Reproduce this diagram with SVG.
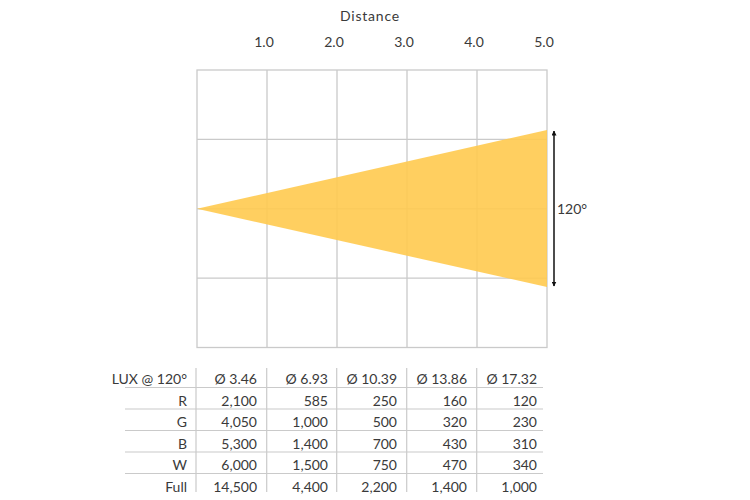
<svg xmlns="http://www.w3.org/2000/svg" width="750" height="500" viewBox="0 0 750 500">
<style>
text{font-family:Lato,"Noto Sans","Liberation Sans",sans-serif;font-size:14px;fill:#3a3a3a}
.grid line,.grid rect{stroke:#cacaca;stroke-width:1.3;fill:none}
.tl{stroke:#cacaca;stroke-width:1.2}
.r{text-anchor:end}
.m{text-anchor:middle}
</style>
<defs>
<marker id="ah" viewBox="0 0 10 10" refX="9" refY="5" markerWidth="5" markerHeight="5" orient="auto-start-reverse" markerUnits="userSpaceOnUse">
<path d="M0,0 L10,5 L0,10 Z" fill="#111"/>
</marker>
</defs>
<rect width="750" height="500" fill="#fff"/>
<g id="axis-labels">
<text class="m" x="370" y="21" style="letter-spacing:0.8px">Distance</text>
<text class="m" x="264" y="47">1.0</text>
<text class="m" x="334" y="47">2.0</text>
<text class="m" x="404" y="47">3.0</text>
<text class="m" x="474" y="47">4.0</text>
<text class="m" x="544" y="47">5.0</text>
</g>
<g id="grid" class="grid">
<rect x="197" y="70" width="350" height="277.5"/>
<line x1="267" y1="70" x2="267" y2="347.5"/>
<line x1="337" y1="70" x2="337" y2="347.5"/>
<line x1="407" y1="70" x2="407" y2="347.5"/>
<line x1="477" y1="70" x2="477" y2="347.5"/>
<line x1="197" y1="139.4" x2="547" y2="139.4"/>
<line x1="197" y1="208.8" x2="547" y2="208.8"/>
<line x1="197" y1="278.2" x2="547" y2="278.2"/>
</g>
<g id="beam">
<polygon points="197,208.8 547,130 547,287" fill="#ffca4f" fill-opacity="0.9"/>
</g>
<g id="angle">
<line x1="554" y1="131" x2="554" y2="286" stroke="#111" stroke-width="1.5" marker-start="url(#ah)" marker-end="url(#ah)"/>
<text x="557" y="214">120°</text>
</g>
<g id="table">
<g class="tl">
<line x1="125" y1="387.5" x2="543" y2="387.5"/>
<line x1="125" y1="409" x2="543" y2="409"/>
<line x1="125" y1="430.5" x2="543" y2="430.5"/>
<line x1="125" y1="452" x2="543" y2="452"/>
<line x1="125" y1="473.5" x2="543" y2="473.5"/>
<line x1="196" y1="368" x2="196" y2="492"/>
<line x1="266.7" y1="368" x2="266.7" y2="492"/>
<line x1="336.7" y1="368" x2="336.7" y2="492"/>
<line x1="406.7" y1="368" x2="406.7" y2="492"/>
<line x1="476.7" y1="368" x2="476.7" y2="492"/>
</g>
<g class="r">
<text x="187" y="384">LUX @ 120°</text>
<text x="257" y="384">Ø 3.46</text>
<text x="328" y="384">Ø 6.93</text>
<text x="397" y="384">Ø 10.39</text>
<text x="467" y="384">Ø 13.86</text>
<text x="537" y="384">Ø 17.32</text>
<text x="187" y="405.5">R</text>
<text x="257" y="405.5">2,100</text>
<text x="328" y="405.5">585</text>
<text x="397" y="405.5">250</text>
<text x="467" y="405.5">160</text>
<text x="537" y="405.5">120</text>
<text x="187" y="427">G</text>
<text x="257" y="427">4,050</text>
<text x="328" y="427">1,000</text>
<text x="397" y="427">500</text>
<text x="467" y="427">320</text>
<text x="537" y="427">230</text>
<text x="187" y="448.5">B</text>
<text x="257" y="448.5">5,300</text>
<text x="328" y="448.5">1,400</text>
<text x="397" y="448.5">700</text>
<text x="467" y="448.5">430</text>
<text x="537" y="448.5">310</text>
<text x="187" y="470">W</text>
<text x="257" y="470">6,000</text>
<text x="328" y="470">1,500</text>
<text x="397" y="470">750</text>
<text x="467" y="470">470</text>
<text x="537" y="470">340</text>
<text x="187" y="491.5">Full</text>
<text x="257" y="491.5">14,500</text>
<text x="328" y="491.5">4,400</text>
<text x="397" y="491.5">2,200</text>
<text x="467" y="491.5">1,400</text>
<text x="537" y="491.5">1,000</text>
</g>
</g>
</svg>
